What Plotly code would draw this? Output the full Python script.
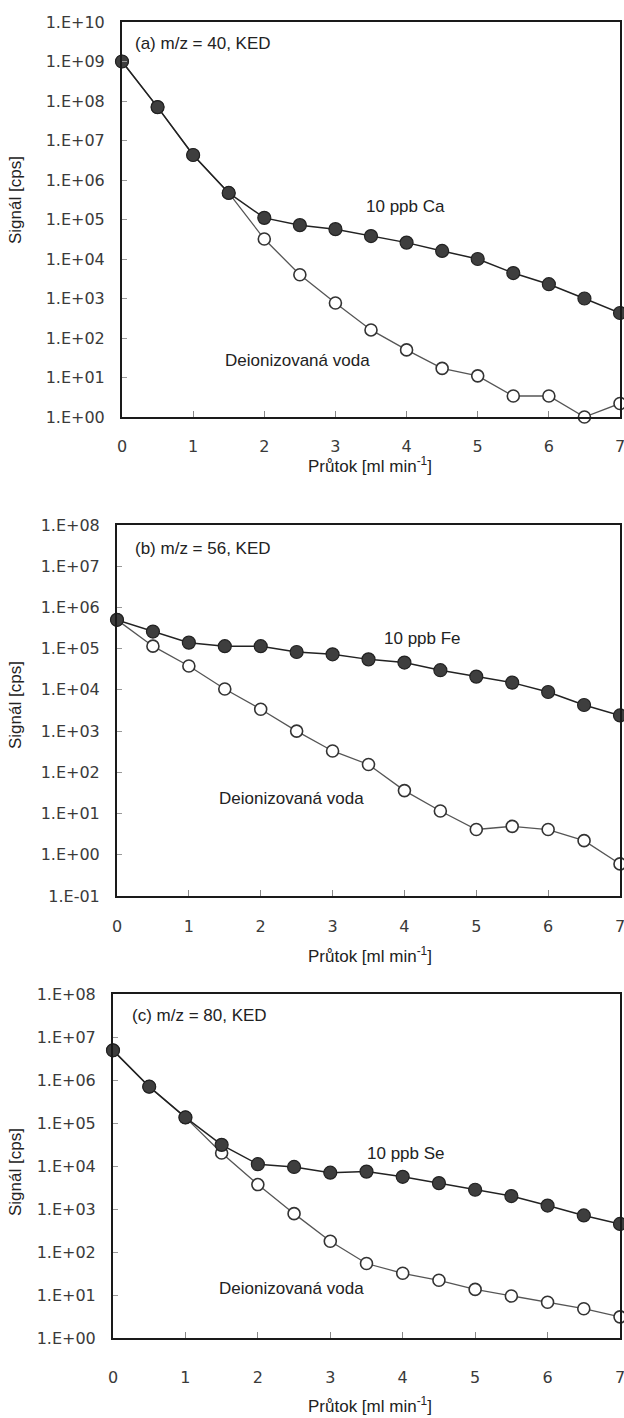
import plotly.graph_objects as go

# ---------------- data ----------------
flow = [0, 0.5, 1, 1.5, 2, 2.5, 3, 3.5, 4, 4.5, 5, 5.5, 6, 6.5, 7]
x_tick_vals = [0, 1, 2, 3, 4, 5, 6, 7]

ca_10ppb = [1.0e9, 7.0e7, 4.3e6, 4.7e5, 1.1e5, 7.2e4, 5.7e4, 3.8e4, 2.6e4, 1.6e4, 1.0e4, 4.4e3, 2.3e3, 1.0e3, 4.3e2]
ca_water = [1.0e9, 7.0e7, 4.3e6, 4.7e5, 3.2e4, 4.0e3, 7.7e2, 1.6e2, 5.0e1, 1.7e1, 1.1e1, 3.4, 3.4, 1.0, 2.2]

fe_10ppb = [5.0e5, 2.6e5, 1.4e5, 1.15e5, 1.15e5, 8.3e4, 7.3e4, 5.5e4, 4.6e4, 3.0e4, 2.1e4, 1.5e4, 8.9e3, 4.3e3, 2.4e3]
fe_water = [5.0e5, 1.15e5, 3.8e4, 1.05e4, 3.4e3, 1.0e3, 3.3e2, 1.55e2, 3.6e1, 1.15e1, 4.1, 4.9, 4.1, 2.2, 0.6]

se_10ppb = [4.9e6, 7.0e5, 1.35e5, 3.1e4, 1.1e4, 9.5e3, 7.0e3, 7.4e3, 5.6e3, 4.0e3, 2.8e3, 2.0e3, 1.2e3, 7.1e2, 4.5e2]
se_water = [4.9e6, 7.0e5, 1.35e5, 2.0e4, 3.7e3, 7.8e2, 1.78e2, 5.4e1, 3.2e1, 2.2e1, 1.35e1, 9.5, 6.8, 4.8, 3.1]

ticks_a = ["1.E+00", "1.E+01", "1.E+02", "1.E+03", "1.E+04", "1.E+05", "1.E+06", "1.E+07", "1.E+08", "1.E+09", "1.E+10"]
ticks_b = ["1.E-01", "1.E+00", "1.E+01", "1.E+02", "1.E+03", "1.E+04", "1.E+05", "1.E+06", "1.E+07", "1.E+08"]
ticks_c = ["1.E+00", "1.E+01", "1.E+02", "1.E+03", "1.E+04", "1.E+05", "1.E+06", "1.E+07", "1.E+08"]

panel_titles = ["(a) m/z = 40, KED", "(b) m/z = 56, KED", "(c) m/z = 80, KED"]
std_labels = ["10 ppb Ca", "10 ppb Fe", "10 ppb Se"]
water_label = "Deionizovaná voda"
x_title = "Průtok [ml min<sup>-1</sup>]"
y_title = "Signál [cps]"

# ---------------- layout geometry ----------------
W, H = 624, 1418
panels = [
    dict(l=122, r=620, t=22, b=417, yr=[0, 10], ticks=ticks_a, std=ca_10ppb, wat=ca_water,
         lab=(0.15, 9.45), stdpos=(3.98, 5.33), watpos=(2.46, 1.44), so=14, xt=465, yt=200),
    dict(l=117, r=620, t=525, b=896, yr=[-1, 8], ticks=ticks_b, std=fe_10ppb, wat=fe_water,
         lab=(0.22, 7.44), stdpos=(4.25, 5.25), watpos=(2.43, 1.37), so=15, xt=955, yt=705),
    dict(l=113, r=620, t=994, b=1338, yr=[0, 8], ticks=ticks_c, std=se_10ppb, wat=se_water,
         lab=(0.24, 7.49), stdpos=(4.05, 4.3), watpos=(2.46, 1.14), so=24, xt=1405, yt=1172),
]

fig = go.Figure()
annotations = []
tick_font = dict(family="DejaVu Sans", size=16, color="#3a3a3a")
ann_font = dict(family="Liberation Sans, Arial", size=17, color="#222222")

for i, p in enumerate(panels):
    sfx = "" if i == 0 else str(i + 1)
    xa, ya = "x" + sfx, "y" + sfx
    fig.add_trace(go.Scatter(
        x=flow, y=p["wat"], xaxis=xa, yaxis=ya, mode="lines+markers",
        line=dict(color="#555555", width=1.3),
        marker=dict(symbol="circle", size=12, color="white",
                    line=dict(color="#333333", width=1.6)),
        cliponaxis=False, showlegend=False))
    fig.add_trace(go.Scatter(
        x=flow, y=p["std"], xaxis=xa, yaxis=ya, mode="lines+markers",
        line=dict(color="#222222", width=1.5),
        marker=dict(symbol="circle", size=13, color="#3e3e3e",
                    line=dict(color="#222222", width=1.2)),
        cliponaxis=False, showlegend=False))

    xdom = [p["l"] / W, p["r"] / W]
    ydom = [1 - p["b"] / H, 1 - p["t"] / H]
    tickvals = [float(t) for t in p["ticks"]]
    fig.update_layout(**{
        "xaxis" + sfx: dict(domain=xdom, anchor=ya, range=[0, 7], tickvals=x_tick_vals,
                            ticktext=[str(v) for v in x_tick_vals], automargin=False,
                            showline=True, linecolor="#1a1a1a", linewidth=2, mirror=True,
                            ticks="inside", ticklen=6, tickcolor="#888888", tickwidth=1,
                            ticklabelstandoff=p["so"], ticklabeloverflow="allow",
                            showgrid=False, zeroline=False, tickfont=tick_font),
        "yaxis" + sfx: dict(domain=ydom, anchor=xa, type="log", range=p["yr"],
                            tickvals=tickvals, ticktext=p["ticks"], automargin=False,
                            showline=True, linecolor="#1a1a1a", linewidth=2, mirror=True,
                            ticks="inside", ticklen=5, tickcolor="#999999", tickwidth=1,
                            ticklabelstandoff=12, ticklabeloverflow="allow",
                            showgrid=False, zeroline=False, tickfont=tick_font),
    })
    annotations += [
        dict(x=p["lab"][0], y=p["lab"][1], xref=xa, yref=ya, text=panel_titles[i],
             showarrow=False, xanchor="left", yanchor="middle", font=ann_font),
        dict(x=p["stdpos"][0], y=p["stdpos"][1], xref=xa, yref=ya, text=std_labels[i],
             showarrow=False, xanchor="center", yanchor="middle", font=ann_font),
        dict(x=p["watpos"][0], y=p["watpos"][1], xref=xa, yref=ya, text=water_label,
             showarrow=False, xanchor="center", yanchor="middle", font=ann_font),
        dict(x=370 / W, y=1 - p["xt"] / H, xref="paper", yref="paper", text=x_title,
             showarrow=False, xanchor="center", yanchor="middle", font=ann_font),
        dict(x=15 / W, y=1 - p["yt"] / H, xref="paper", yref="paper", text=y_title,
             showarrow=False, xanchor="center", yanchor="middle", textangle=-90, font=ann_font),
    ]

fig.update_layout(width=W, height=H, margin=dict(l=0, r=0, t=0, b=0, autoexpand=False),
                  paper_bgcolor="white", plot_bgcolor="white",
                  annotations=annotations, showlegend=False)

fig.write_html("out.html")
